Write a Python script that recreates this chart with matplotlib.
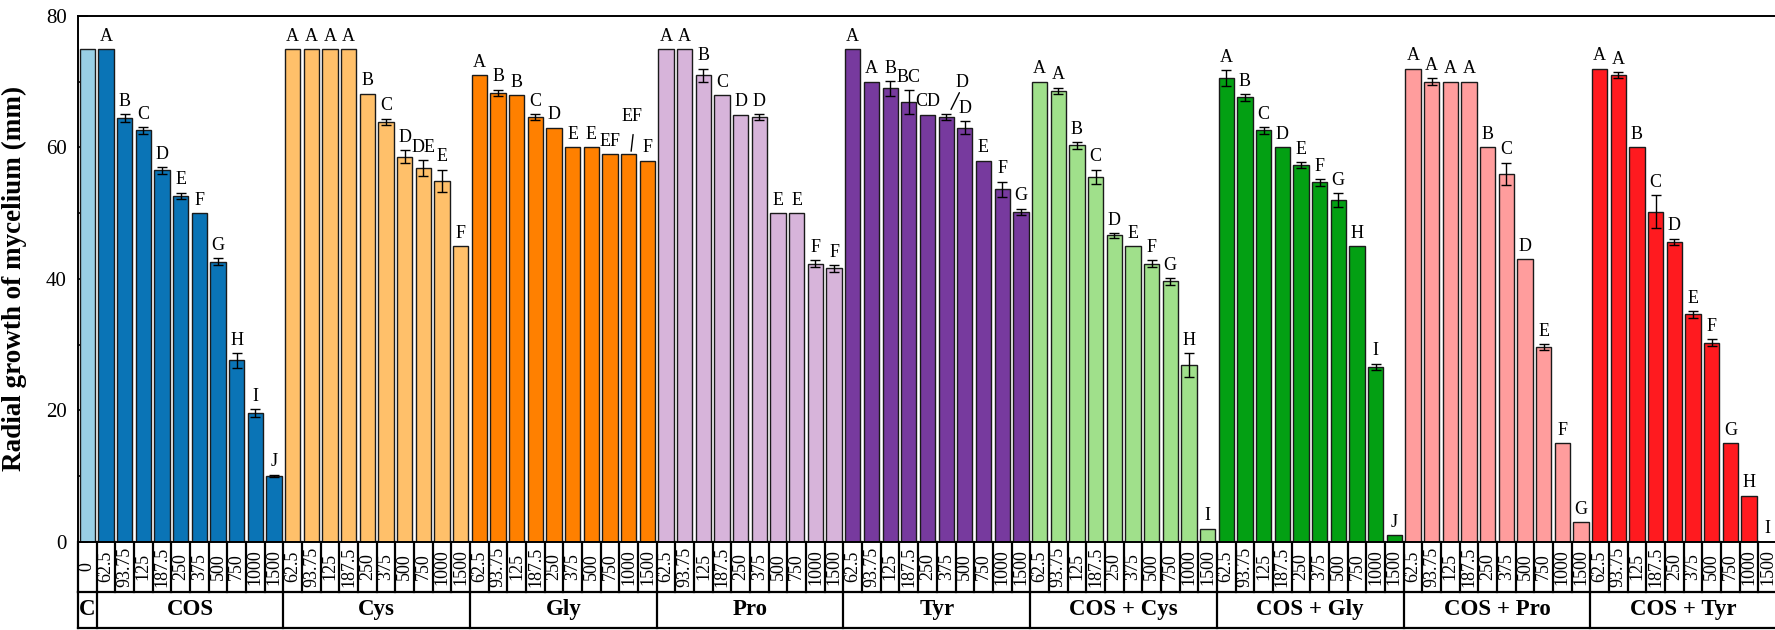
import matplotlib
matplotlib.use("Agg")
import matplotlib.pyplot as plt
import matplotlib.transforms as mtransforms
import numpy as np

plt.rcParams['font.family'] = ['Liberation Serif', 'DejaVu Serif']

# concentrations (mg/L) and treatment groups
concs = ['62.5', '93.75', '125', '187.5', '250', '375', '500', '750', '1000', '1500']
groups = ['COS', 'Cys', 'Gly', 'Pro', 'Tyr', 'COS + Cys', 'COS + Gly', 'COS + Pro', 'COS + Tyr']
colors = ['#0a74b6', '#ffc06a', '#ff8000', '#d7b4da', '#773a9e',
          '#a0e08b', '#03a013', '#ff9d9d', '#ff1a1f']

control_value = 75.0
control_color = '#99cfe5'

cos = [75, 64.5, 62.6, 56.5, 52.6, 50, 42.6, 27.6, 19.6, 10.0]
cos_err = [0, 0.6, 0.5, 0.5, 0.5, 0, 0.5, 1.1, 0.6, 0.2]
cos_let = ['A', 'B', 'C', 'D', 'E', 'F', 'G', 'H', 'I', 'J']

cys = [75, 75, 75, 75, 68.2, 63.9, 58.6, 56.9, 54.9, 45]
cys_err = [0, 0, 0, 0, 0, 0.5, 1.0, 1.2, 1.7, 0]
cys_let = ['A', 'A', 'A', 'A', 'B', 'C', 'D', 'DE', 'E', 'F']

gly = [71, 68.3, 68, 64.6, 63, 60, 60, 59, 59, 58]
gly_err = [0, 0.5, 0, 0.5, 0, 0, 0, 0, 0, 0]
gly_let = ['A', 'B', 'B', 'C', 'D', 'E', 'E', 'EF', 'EF', 'F']

pro = [75, 75, 71, 68, 65, 64.6, 50, 50, 42.3, 41.6]
pro_err = [0, 0, 1.0, 0, 0, 0.5, 0, 0, 0.5, 0.5]
pro_let = ['A', 'A', 'B', 'C', 'D', 'D', 'E', 'E', 'F', 'F']

tyr = [75, 70, 69, 66.9, 65, 64.6, 63, 58, 53.6, 50.2]
tyr_err = [0, 0, 1.1, 1.8, 0, 0.5, 1.0, 0, 1.2, 0.5]
tyr_let = ['A', 'A', 'B', 'BC', 'CD', 'D', 'D', 'E', 'F', 'G']

cos_cys = [70, 68.6, 60.3, 55.5, 46.6, 45, 42.3, 39.6, 26.9, 2]
cos_cys_err = [0, 0.5, 0.5, 1.1, 0.4, 0, 0.5, 0.5, 1.8, 0]
cos_cys_let = ['A', 'A', 'B', 'C', 'D', 'E', 'F', 'G', 'H', 'I']

cos_gly = [70.6, 67.6, 62.6, 60, 57.3, 54.7, 52, 45, 26.6, 1]
cos_gly_err = [1.2, 0.5, 0.5, 0, 0.5, 0.5, 1.0, 0, 0.5, 0]
cos_gly_let = ['A', 'B', 'C', 'D', 'E', 'F', 'G', 'H', 'I', 'J']

cos_pro = [72, 70, 70, 70, 60, 56, 43, 29.6, 15, 3]
cos_pro_err = [0, 0.5, 0, 0, 0, 1.7, 0, 0.5, 0, 0]
cos_pro_let = ['A', 'A', 'A', 'A', 'B', 'C', 'D', 'E', 'F', 'G']

cos_tyr = [72, 71, 60, 50.2, 45.6, 34.6, 30.3, 15, 7, 0]
cos_tyr_err = [0, 0.5, 0, 2.5, 0.5, 0.5, 0.5, 0, 0, 0]
cos_tyr_let = ['A', 'A', 'B', 'C', 'D', 'E', 'F', 'G', 'H', 'I']

means = [cos, cys, gly, pro, tyr, cos_cys, cos_gly, cos_pro, cos_tyr]
errs = [cos_err, cys_err, gly_err, pro_err, tyr_err,
        cos_cys_err, cos_gly_err, cos_pro_err, cos_tyr_err]
letters = [cos_let, cys_let, gly_let, pro_let, tyr_let,
           cos_cys_let, cos_gly_let, cos_pro_let, cos_tyr_let]

# letters lifted off the bar with a leader stroke: (group, bar) -> text offset, stroke start/end (points)
raised = {(2, 8): ((2.2, 23.6), (1.7, 2.0), (3.1, 14.0)),
          (4, 5): ((11.2, 19.5), (3.5, 3.2), (9.5, 15.3))}

fig = plt.figure(figsize=(17.75, 6.3), dpi=100)
ax = fig.add_axes([78 / 1775, (630 - 541.7) / 630, (1777 - 78) / 1775, 525.7 / 630])

vals = [control_value] + [v for g in means for v in g]
errv = [0] + [e for g in errs for e in g]
cols = [control_color] + [c for c in colors for _ in concs]
xs = np.arange(len(vals))

ax.bar(xs, vals, width=0.82, color=cols, edgecolor='#1a1a1a', linewidth=1.0, zorder=2)
for x, v, e in zip(xs, vals, errv):
    if e > 0:
        ax.errorbar(x, v, yerr=e, fmt='none', ecolor='black', elinewidth=1.0,
                    capsize=3.8, capthick=1.0, zorder=3)

# significance letters
for gi, (gm, ge, gl) in enumerate(zip(means, errs, letters)):
    for bi, (v, e, lab) in enumerate(zip(gm, ge, gl)):
        x = 1 + gi * len(concs) + bi
        top = v + e
        if (gi, bi) in raised:
            toff, s0, s1 = raised[(gi, bi)]
            ax.annotate(lab, (x, top), xytext=toff, textcoords='offset points',
                        ha='center', va='baseline', fontsize=13, annotation_clip=False)
            start = mtransforms.offset_copy(ax.transData, fig=fig, x=s0[0], y=s0[1],
                                            units='points')
            ax.annotate('', xy=(x, top), xycoords=start,
                        xytext=(s1[0] - s0[0], s1[1] - s0[1]), textcoords='offset points',
                        arrowprops=dict(arrowstyle='-', lw=1.0, color='black',
                                        shrinkA=0, shrinkB=0),
                        annotation_clip=False)
        else:
            ax.annotate(lab, (x, top), xytext=(0, 6), textcoords='offset points',
                        ha='center', va='baseline', fontsize=13, annotation_clip=False)

ax.set_xlim(-0.5, len(vals) - 0.5)
ax.set_ylim(0, 80)
ax.set_yticks([0, 20, 40, 60, 80])
ax.set_yticks([10, 30, 50, 70], minor=True)
ax.tick_params(axis='y', which='major', direction='in', length=7, width=1.2,
               labelsize=15, pad=8)
ax.tick_params(axis='y', which='minor', direction='in', length=3.6, width=1.2)
ax.set_xticks([])
for side in ['left', 'bottom', 'top', 'right']:
    ax.spines[side].set_linewidth(1.4)
ax.set_ylabel('Radial growth of mycelium (mm)', fontsize=19.5, fontweight='bold', labelpad=14)

# two-row category table under the axis
trans = mtransforms.blended_transform_factory(ax.transData, ax.transAxes)
row1 = -50.0 / 525.7
row2 = -86.5 / 525.7
line_kw = dict(color='black', transform=trans, clip_on=False, lw=1.6)
ax.plot([-0.5, len(vals) - 0.5], [row1, row1], **line_kw)
ax.plot([-0.5, len(vals) - 0.5], [row2, row2], **line_kw)
for b in np.arange(-0.5, len(vals), 1.0):
    ax.plot([b, b], [0, row1], **line_kw)
for b in [-0.5, 0.5] + [0.5 + len(concs) * (i + 1) for i in range(len(groups))]:
    ax.plot([b, b], [row1, row2], **line_kw)

tick_labels = ['0'] + concs * len(groups)
for x, t in zip(xs, tick_labels):
    ax.text(x, row1 / 2, t, transform=trans, rotation=90, ha='center', va='center',
            fontsize=13, clip_on=False)
ax.text(0, (row1 + row2) / 2, 'C', transform=trans, ha='center', va='center',
        fontsize=16.5, fontweight='bold')
for gi, g in enumerate(groups):
    xc = 1 + gi * len(concs) + (len(concs) - 1) / 2
    ax.text(xc, (row1 + row2) / 2, g, transform=trans, ha='center', va='center',
            fontsize=16.5, fontweight='bold')

fig.savefig('out.png', dpi=100)
